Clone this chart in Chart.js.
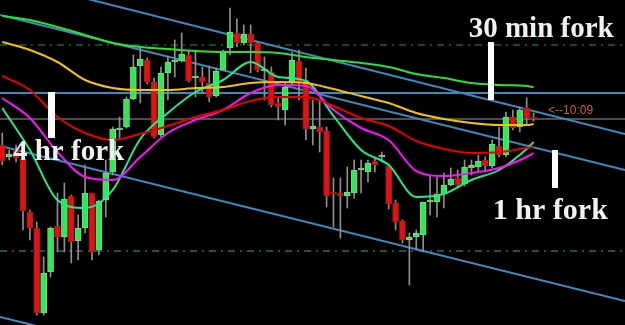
<!DOCTYPE html>
<html lang="en">
<head>
    <meta charset="UTF-8">
    <title>Forks</title>
    <script src="https://cdn.jsdelivr.net/npm/chart.js@4.4.0/dist/chart.umd.min.js"></script>
    <style>
        body { margin: 0; background: #000; }
        #wrap { width: 625px; height: 325px; }
    </style>
</head>
<body>
    <div id="wrap"><canvas id="fork-canvas"></canvas></div>

    <script type="text/javascript">
        // candles, price in points
        var opens  = [180,168,175,166,113,97,12,53,99,88,129,84,97,132,75,125,153,195,198,226,259,265,243,190,252,263,264,270,247,248,
                      242,229,255,277,292,282,291,282,254,253,222,215,242,264,245,196,198,194,132,132,129,132,155,153,164,168,159,122,104,85,
                      88,90,123,123,131,140,147,141,157,158,165,159,179,170,208,198,217,208];
        var highs  = [192,175,180,169,115,103,68,98,132,142,130,110,160,132,125,165,198,208,228,270,278,267,247,258,269,285,292,275,275,258,
                      259,257,275,317,306,300,300,283,268,258,228,243,273,275,257,225,225,198,147,147,158,165,165,165,167,173,161,125,105,92,
                      95,123,150,148,152,157,155,165,165,170,168,185,198,213,215,218,227,212];
        var lows   = [160,165,163,95,85,10,10,48,73,73,62,65,92,65,70,108,150,187,197,225,222,241,187,188,225,248,263,243,228,232,
                      223,228,255,270,278,280,252,253,225,218,205,200,240,225,185,180,173,118,98,87,117,127,132,143,153,163,116,95,82,40,
                      75,73,110,108,117,139,138,139,150,153,153,157,168,168,195,193,200,204];
        var closes = [164,171,167,114,97,12,52,97,88,126,83,97,132,73,124,152,196,197,226,258,266,243,188,252,263,264,271,244,248,243,
                      228,254,274,293,282,291,282,255,255,220,218,238,265,242,196,199,193,129,131,129,133,155,156,162,160,170,121,103,85,88,
                      92,123,124,131,140,146,140,158,160,164,159,181,170,208,197,215,207,206];

        // moving averages, sampled every 4 candles (last one at the final candle)
        var maIndex   = [0,4,8,12,16,20,24,28,32,36,40,44,48,52,56,60,64,68,72,76,77];
        var maSlow    = [309,305,298,290,282,278,276,274,273,273,272,268,265,262,258,251,247,242,240,239,238];
        var maYellow  = [283,275,263,245,237,235,235,237,238,242,243,242,236,229,222,212,206,202,200,200,201];
        var maRed     = [249,235,208,192,185,191,199,208,215,224,228,228,219,207,199,184,176,172,173,177,178];
        var maMagenta = [227,207,173,148,145,168,192,205,215,232,240,239,215,197,185,154,149,152,157,168,172];
        var maFast    = [217,175,125,117,135,186,212,233,245,263,248,244,209,175,160,128,131,145,155,176,183];

        // pitchfork lines: value at left edge and right edge
        var forkLeft  = [348, 310, 179, 8];
        var forkRight = [191, 155, 24, -145];

        // horizontal levels
        var levelBlue = 232;
        var levelBid = 206;
        var levelTop = 280;
        var levelLow = 74;

        var xMin = -0.33, xMax = 90.25;

        var BLUE = '#3b8bbd';

        function maSet(values, color) {
            return {
                type: 'line',
                data: values.map(function(v, k) { return {x: maIndex[k], y: v}; }),
                borderColor: color,
                borderWidth: 2,
                pointRadius: 0,
                cubicInterpolationMode: 'monotone',
                order: 1
            };
        }

        function straight(y1, y2, color, width, dash) {
            return {
                type: 'line',
                data: [{x: xMin, y: y1}, {x: xMax, y: y2}],
                borderColor: color,
                borderWidth: width,
                borderDash: dash || [],
                pointRadius: 0,
                order: 5
            };
        }

        var wicks = [], bodies = [], bodyColors = [], bodyBorders = [];
        for (var i = 0; i < opens.length; i++) {
            wicks.push({x: i, y: [lows[i], highs[i]]});
            bodies.push({x: i, y: [opens[i], closes[i]]});
            var up = closes[i] >= opens[i];
            bodyColors.push(up ? '#26ee52' : '#e01212');
            bodyBorders.push(up ? '#9ac8a0' : '#a01818');
        }

        var datasets = [];
        for (var f = 0; f < forkLeft.length; f++) {
            datasets.push(straight(forkLeft[f], forkRight[f], BLUE, 2));
        }
        datasets.push(straight(levelBlue, levelBlue, BLUE, 2));
        datasets.push(straight(levelBid, levelBid, '#9c9c9c', 1));
        datasets.push(straight(levelTop, levelTop, '#1d9a38', 1, [7, 5, 2, 5]));
        datasets.push(straight(levelLow, levelLow, '#26a6a6', 1, [7, 5, 2, 5]));

        datasets.push({
            type: 'bar', data: wicks, backgroundColor: '#8f8f8f',
            barThickness: 1, grouped: false, order: 3
        });
        datasets.push({
            type: 'bar', data: bodies, backgroundColor: bodyColors, borderColor: bodyBorders,
            borderWidth: 1, borderSkipped: false, barThickness: 6, minBarLength: 2,
            grouped: false, order: 2
        });

        datasets.push(maSet(maSlow, '#2fe02f'));
        datasets.push(maSet(maYellow, '#f5c400'));
        datasets.push(maSet(maRed, '#e80000'));
        datasets.push(maSet(maMagenta, '#ff10ff'));
        datasets.push(maSet(maFast, '#1bef8a'));

        // white fork markers and the notes
        var marks = [
            {x: 7.13, from: 233, to: 187, w: 7},
            {x: 70.83, from: 283, to: 225, w: 6},
            {x: 80.1, from: 175, to: 137, w: 6}
        ];
        var notes = [
            {text: '4 hr fork', x: 1.55, y: 165, font: 'bold 29px "Liberation Serif"', color: '#f2f2f2'},
            {text: '30 min fork', x: 67.6, y: 288, font: 'bold 29px "Liberation Serif"', color: '#f2f2f2'},
            {text: '1 hr fork', x: 71.1, y: 106, font: 'bold 30px "Liberation Serif"', color: '#f2f2f2'},
            {text: '<--10:09', x: 79.1, y: 211, font: '12px "Liberation Sans"', color: '#c8641e'}
        ];

        var notesPlugin = {
            id: 'notes',
            afterDatasetsDraw: function(chart) {
                var ctx = chart.ctx, sx = chart.scales.x, sy = chart.scales.y;
                ctx.save();
                ctx.fillStyle = '#ffffff';
                marks.forEach(function(m) {
                    var px = sx.getPixelForValue(m.x);
                    var top = sy.getPixelForValue(m.from), bot = sy.getPixelForValue(m.to);
                    ctx.fillRect(Math.round(px - m.w / 2), top, m.w, bot - top);
                });
                ctx.textBaseline = 'alphabetic';
                notes.forEach(function(n) {
                    ctx.font = n.font;
                    ctx.fillStyle = n.color;
                    ctx.fillText(n.text, sx.getPixelForValue(n.x), sy.getPixelForValue(n.y));
                });
                ctx.restore();
            }
        };

        var ctx = document.getElementById('fork-canvas').getContext('2d');
        new Chart(ctx, {
            type: 'bar',
            data: { datasets: datasets },
            options: {
                responsive: true,
                maintainAspectRatio: false,
                animation: false,
                layout: { padding: 0 },
                plugins: { legend: { display: false }, tooltip: { enabled: false } },
                scales: {
                    x: { type: 'linear', min: xMin, max: xMax, offset: false, display: false },
                    y: { type: 'linear', min: 0, max: 325, display: false }
                }
            },
            plugins: [notesPlugin]
        });
    </script>
</body>
</html>
